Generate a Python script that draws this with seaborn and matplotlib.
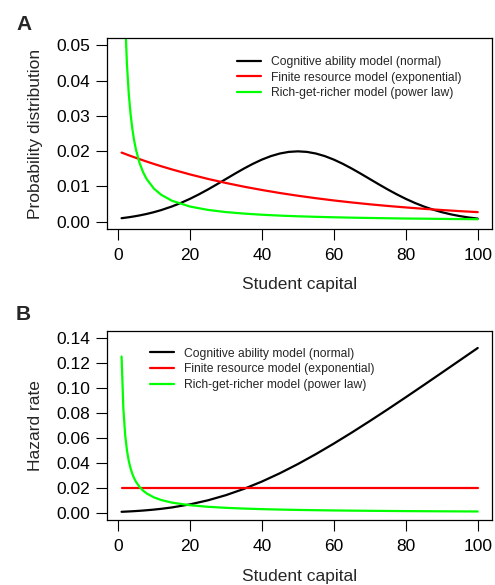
import matplotlib
matplotlib.use("Agg")
import matplotlib.pyplot as plt
import seaborn as sns
import pandas as pd

capital = [1, 1.5, 2, 2.5, 3, 3.5, 4, 4.5, 5, 6, 7, 8, 10, 12, 15, 20, 25, 30, 35,
           40, 45, 50, 55, 60, 65, 70, 75, 80, 85, 90, 95, 100]
# finer grid for the bell-shaped curve
capital_normal = [1, 2, 3, 4, 5, 6, 8, 10, 12, 15, 17.5, 20, 22.5, 25, 27.5, 30, 32.5,
                  35, 37.5, 40, 42.5, 45, 47.5, 50, 52.5, 55, 57.5, 60, 62.5, 65, 67.5,
                  70, 72.5, 75, 77.5, 80, 82.5, 85, 87.5, 90, 92.5, 95, 97.5, 100]

# A: probability distributions
pdf_normal = [0.000992, 0.001120, 0.001261, 0.001416, 0.001588, 0.001774, 0.002199,
              0.002700, 0.003281, 0.004315, 0.005327, 0.006476, 0.007751, 0.009132,
              0.010594, 0.012099, 0.013602, 0.015057, 0.016408, 0.017603, 0.018593,
              0.019333, 0.019792, 0.019947, 0.019792, 0.019333, 0.018593, 0.017603,
              0.016408, 0.015057, 0.013602, 0.012099, 0.010594, 0.009132, 0.007751,
              0.006476, 0.005327, 0.004315, 0.003439, 0.002700, 0.002087, 0.001588,
              0.001188, 0.000876]
pdf_exponential = [0.01960, 0.01941, 0.01922, 0.01902, 0.01883, 0.01865, 0.01846, 0.01828,
                   0.01810, 0.01774, 0.01739, 0.01704, 0.01637, 0.01573, 0.01482, 0.01341,
                   0.01213, 0.01098, 0.00993, 0.00899, 0.00813, 0.00736, 0.00666, 0.00602,
                   0.00545, 0.00493, 0.00446, 0.00404, 0.00365, 0.00331, 0.00299, 0.00271]
pdf_powerlaw = [0.12500, 0.07918, 0.05731, 0.04459, 0.03632, 0.03054, 0.02628, 0.02301,
                0.02044, 0.01665, 0.01400, 0.01205, 0.00937, 0.00764, 0.00594, 0.00430,
                0.00334, 0.00272, 0.00230, 0.00197, 0.00172, 0.00153, 0.00138, 0.00125,
                0.00114, 0.00105, 0.00097, 0.00090, 0.00085, 0.00079, 0.00074, 0.00070]

# B: hazard rates
haz_normal = [0.00100, 0.00106, 0.00113, 0.00120, 0.00127, 0.00135, 0.00143, 0.00152,
              0.00161, 0.00180, 0.00201, 0.00224, 0.00276, 0.00337, 0.00448, 0.00692,
              0.01016, 0.01428, 0.01928, 0.02514, 0.03178, 0.03911, 0.04704, 0.05547,
              0.06430, 0.07346, 0.08285, 0.09246, 0.10219, 0.11203, 0.12191, 0.13180]
haz_exponential = [0.02] * len(capital)
haz_powerlaw = [0.12500, 0.08333, 0.06250, 0.05000, 0.04167, 0.03571, 0.03125, 0.02778,
                0.02500, 0.02083, 0.01786, 0.01563, 0.01250, 0.01042, 0.00833, 0.00625,
                0.00500, 0.00417, 0.00357, 0.00313, 0.00278, 0.00250, 0.00227, 0.00208,
                0.00192, 0.00179, 0.00167, 0.00156, 0.00147, 0.00139, 0.00132, 0.00125]

model_names = ["Cognitive ability model (normal)",
               "Finite resource model (exponential)",
               "Rich-get-richer model (power law)"]
model_colors = ["#000000", "#ff0000", "#00ff00"]

x_ticks = [0, 20, 40, 60, 80, 100]
yticks_a = [0.00, 0.01, 0.02, 0.03, 0.04, 0.05]
yticks_b = [0.00, 0.02, 0.04, 0.06, 0.08, 0.10, 0.12, 0.14]


def main():
    sns.set_theme(style="white")
    plt.rcParams['font.family'] = ['Liberation Sans', 'DejaVu Sans']
    plt.rcParams['axes.linewidth'] = 0.9
    plt.rcParams['axes.edgecolor'] = 'black'

    fig = plt.figure(figsize=(4.95, 5.85), dpi=100)
    ax_a = fig.add_axes([0.2168, 0.609, 0.7771, 0.3255])
    ax_b = fig.add_axes([0.2168, 0.111, 0.7771, 0.3237])

    panels = [
        (ax_a, [(capital_normal, pdf_normal), (capital, pdf_exponential), (capital, pdf_powerlaw)],
         yticks_a, "Probability distribution", "A", (0.336, 0.907), 30),
        (ax_b, [(capital, haz_normal), (capital, haz_exponential), (capital, haz_powerlaw)],
         yticks_b, "Hazard rate", "B", (0.111, 0.911), 320),
    ]

    for ax, series, yticks, ylabel, letter, leg_pos, letter_y in panels:
        for (xs, vals), name, col in zip(series, model_names, model_colors):
            df = pd.DataFrame({'capital': xs, 'value': vals})
            sns.lineplot(data=df, x='capital', y='value', ax=ax, color=col,
                         linewidth=1.6, label=name)

        span_x = 100 - 1
        ax.set_xlim(1 - 0.04 * span_x, 100 + 0.04 * span_x)
        span_y = yticks[-1] - yticks[0]
        ax.set_ylim(yticks[0] - 0.04 * span_y, yticks[-1] + 0.04 * span_y)
        ax.set_xticks(x_ticks)
        ax.set_yticks(yticks)
        ax.set_yticklabels([f"{t:.2f}" for t in yticks])
        ax.tick_params(axis='both', direction='out', length=7.7, width=0.8,
                       labelsize=12.5, colors='black', bottom=True, left=True)
        ax.tick_params(axis='x', pad=6)
        ax.tick_params(axis='y', pad=4.5)
        ax.set_xlabel("Student capital", fontsize=12.5, labelpad=10.5)
        ax.set_ylabel(ylabel, fontsize=12.5, labelpad=10)
        for sp in ax.spines.values():
            sp.set_visible(True)
            sp.set_color('black')

        ax.legend(loc='upper left', bbox_to_anchor=leg_pos, frameon=False,
                  fontsize=8.7, handlelength=2.0, handletextpad=0.85,
                  labelspacing=0.3, borderpad=0, borderaxespad=0)

        fig.text(16 / 495, 1 - letter_y / 585, letter, fontsize=15, fontweight='bold',
                 family=['Liberation Sans Narrow', 'Liberation Sans'],
                 ha='left', va='baseline')

    fig.savefig("out.png", dpi=100)


if __name__ == '__main__':
    main()
